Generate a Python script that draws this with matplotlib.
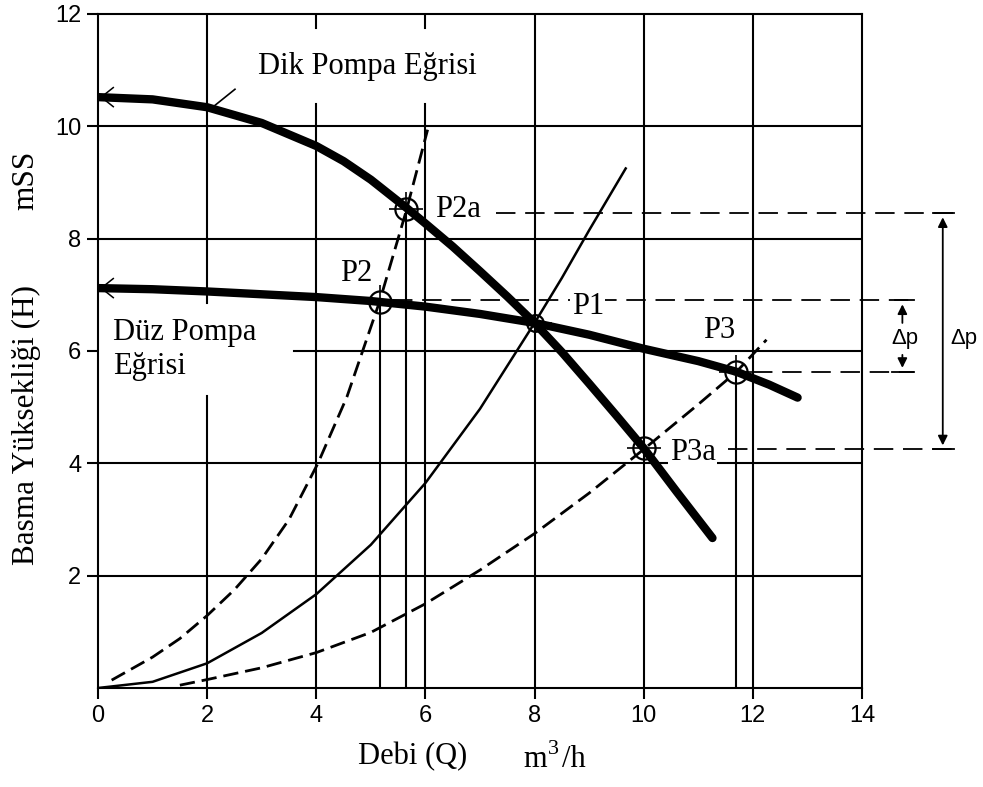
import matplotlib
matplotlib.use('Agg')
import matplotlib.pyplot as plt

plt.rcParams['lines.scale_dashes'] = False

SERIF = 'Liberation Serif'
SANS = 'Liberation Sans'

# ---------------- data ----------------
x_ticks = [0, 2, 4, 6, 8, 10, 12, 14]
y_ticks = [2, 4, 6, 8, 10, 12]

# steep pump curve (Dik Pompa Eğrisi)
dik_q = [0, 1, 2, 3, 4, 4.5, 5, 5.65, 6, 6.5, 7, 7.5, 8, 8.5, 9, 9.5, 10, 10.6, 11.26]
dik_h = [10.52, 10.48, 10.34, 10.06, 9.65, 9.38, 9.05, 8.55, 8.27, 7.86, 7.42, 6.97,
         6.5, 5.98, 5.42, 4.85, 4.27, 3.5, 2.67]

# flat pump curve (Düz Pompa Eğrisi)
duz_q = [0, 1, 2, 3, 4, 5, 6, 7, 8, 9, 10, 11, 11.7, 12.3, 12.82]
duz_h = [7.12, 7.1, 7.06, 7.01, 6.96, 6.89, 6.79, 6.66, 6.5, 6.29, 6.04, 5.82, 5.63,
         5.4, 5.17]

# system curves
sys_mid_q = [0, 1, 2, 3, 4, 5, 6, 7, 8, 8.5, 9, 9.67]
sys_mid_h = [0, 0.11, 0.44, 0.98, 1.67, 2.55, 3.65, 4.97, 6.5, 7.3, 8.15, 9.25]

sys_steep_q = [0.25, 1, 1.5, 2, 2.5, 3, 3.5, 4.03, 4.56, 5.16, 5.65, 6.04]
sys_steep_h = [0.14, 0.55, 0.88, 1.29, 1.75, 2.3, 3.0, 4.0, 5.18, 6.88, 8.5, 9.94]

sys_flat_q = [1.5, 2, 3, 4, 5, 6, 7, 8, 9, 10, 11, 11.7, 12.25]
sys_flat_h = [0.05, 0.15, 0.36, 0.63, 0.99, 1.5, 2.1, 2.75, 3.47, 4.25, 5.05, 5.63, 6.2]

# operating points
pt_names = ['P1', 'P2', 'P2a', 'P3', 'P3a']
pt_q = [8.0, 5.16, 5.65, 11.7, 10.0]
pt_h = [6.5, 6.88, 8.52, 5.63, 4.27]

# ---------------- figure ----------------
W, H = 983, 787
fig = plt.figure(figsize=(W / 100, H / 100), dpi=100)
ax = fig.add_axes([98 / W, 1 - 688 / H, (862 - 98) / W, (688 - 14) / H])
ax.set_xlim(0, 14)
ax.set_ylim(0, 12)

GL = 1.5
for s in ax.spines.values():
    s.set_linewidth(GL)

ax.set_xticks(x_ticks)
ax.set_yticks(y_ticks)
ax.set_xticklabels([str(v) for v in x_ticks])
ax.set_yticklabels([str(v) for v in y_ticks])
ax.tick_params(direction='out', length=8, width=GL, labelsize=17, pad=4)
for lab in ax.get_xticklabels() + ax.get_yticklabels():
    lab.set_fontfamily(SANS)

# grid lines (with the gaps of the original)
kw = dict(color='k', lw=GL, zorder=1)
for y in [2, 4, 8, 10]:
    ax.plot([0, 14], [y, y], **kw)
ax.plot([3.6, 14], [6, 6], **kw)
ax.plot([2, 2], [0, 5.2], **kw)
ax.plot([2, 2], [6.85, 12], **kw)
for x in [4, 6]:
    ax.plot([x, x], [0, 10.4], **kw)
    ax.plot([x, x], [11.75, 12], **kw)
for x in [8, 10, 12]:
    ax.plot([x, x], [0, 12], **kw)

# pump curves
ax.plot(dik_q, dik_h, color='k', lw=6, solid_capstyle='round',
        solid_joinstyle='round', zorder=4)
ax.plot(duz_q, duz_h, color='k', lw=6, solid_capstyle='round',
        solid_joinstyle='round', zorder=4)

# system curves
ax.plot(sys_mid_q, sys_mid_h, color='k', lw=1.8, zorder=3)
ax.plot(sys_steep_q, sys_steep_h, color='k', lw=2.0, dashes=(11, 5), zorder=3)
ax.plot(sys_flat_q, sys_flat_h, color='k', lw=2.0, dashes=(11, 5), zorder=3)

# drop lines from operating points
for i in [1, 2, 3]:
    ax.plot([pt_q[i], pt_q[i]], [0, pt_h[i]], color='k', lw=GL, zorder=2)

# dashed reference levels
dkw = dict(color='k', lw=1.3, dashes=(14, 7), clip_on=False, zorder=2)
ax.plot([7.3, 15.68], [8.45, 8.45], **dkw)       # P2a level
ax.plot([5.4, 14.95], [6.9, 6.9], **dkw)         # P2 level
ax.plot([12.0, 14.95], [5.63, 5.63], **dkw)      # P3 level
ax.plot([11.55, 15.68], [4.25, 4.25], **dkw)     # P3a level

# markers
for i in range(len(pt_q)):
    ms = 12 if pt_names[i] == 'P1' else 16
    ax.plot(pt_q[i], pt_h[i], 'o', mfc='none', mec='k', ms=ms, mew=1.6, zorder=5)
    ax.plot(pt_q[i], pt_h[i], '+', color='k', ms=24, mew=1.2, zorder=5)

# point labels
tkw = dict(fontsize=22, fontfamily=SERIF, va='center', zorder=6)
ax.text(6.17, 8.52, 'P2a', ha='left', **tkw)
ax.text(4.74, 7.38, 'P2', ha='center', **tkw)
ax.text(8.68, 6.79, 'P1', ha='left',
        bbox=dict(fc='white', ec='none', pad=1), **tkw)
ax.text(11.39, 6.37, 'P3', ha='center', **tkw)
ax.text(10.48, 4.2, 'P3a', ha='left',
        bbox=dict(fc='white', ec='none', pad=1), **tkw)

# curve labels
ax.text(2.93, 11.07, 'Dik Pompa Eğrisi', ha='left', **tkw)
ax.text(0.27, 6.33, 'Düz Pompa', ha='left', **tkw)
ax.text(0.27, 5.72, 'Eğrisi', ha='left', **tkw)
ax.plot([2.1, 2.51], [10.34, 10.66], color='k', lw=1.2, zorder=5)
for h0 in [10.52, 7.12]:
    ax.plot([0.28, 0.06, 0.28], [h0 + 0.17, h0, h0 - 0.17], color='k', lw=1.1,
            zorder=5, clip_on=False)

# Δp dimension lines
ckw = dict(color='k', lw=1.3, clip_on=False)
# small Δp (P2 level to P3 level)
ax.plot([14.6, 14.95], [6.9, 6.9], **ckw)
ax.plot([14.55, 14.95], [5.63, 5.63], **ckw)
ax.annotate('', xy=(14.74, 6.88), xytext=(14.74, 6.45), annotation_clip=False,
            arrowprops=dict(arrowstyle='-|>', color='k', lw=1.3, mutation_scale=14))
ax.annotate('', xy=(14.74, 5.65), xytext=(14.74, 5.98), annotation_clip=False,
            arrowprops=dict(arrowstyle='-|>', color='k', lw=1.3, mutation_scale=14))
ax.text(14.78, 6.22, 'Δp', ha='center', va='center', fontsize=16, fontfamily=SANS)
# large Δp (P2a level to P3a level)
ax.plot([15.3, 15.68], [8.45, 8.45], **ckw)
ax.plot([15.3, 15.68], [4.25, 4.25], **ckw)
ax.annotate('', xy=(15.48, 8.43), xytext=(15.48, 4.27), annotation_clip=False,
            arrowprops=dict(arrowstyle='<|-|>', color='k', lw=1.3, mutation_scale=14))
ax.text(15.86, 6.22, 'Δp', ha='center', va='center', fontsize=16, fontfamily=SANS)

# axis titles
def fx(px):
    return px / W

def fy(py):
    return 1 - py / H

fig.text(fx(26), fy(425), 'Basma Yüksekliği (H)', rotation=90, ha='center', va='center',
         fontsize=22.5, fontfamily=SERIF)
fig.text(fx(26), fy(180), 'mSS', rotation=90, ha='center', va='center',
         fontsize=22.5, fontfamily=SERIF)
fig.text(fx(413), fy(757), 'Debi (Q)', ha='center', va='center',
         fontsize=22, fontfamily=SERIF)
fig.text(fx(547), fy(767), 'm', ha='right', va='baseline', fontsize=22, fontfamily=SERIF)
fig.text(fx(548), fy(754), '3', ha='left', va='baseline', fontsize=16, fontfamily=SERIF)
fig.text(fx(562), fy(767), '/h', ha='left', va='baseline', fontsize=22, fontfamily=SERIF)

fig.savefig('out.png', dpi=100)
